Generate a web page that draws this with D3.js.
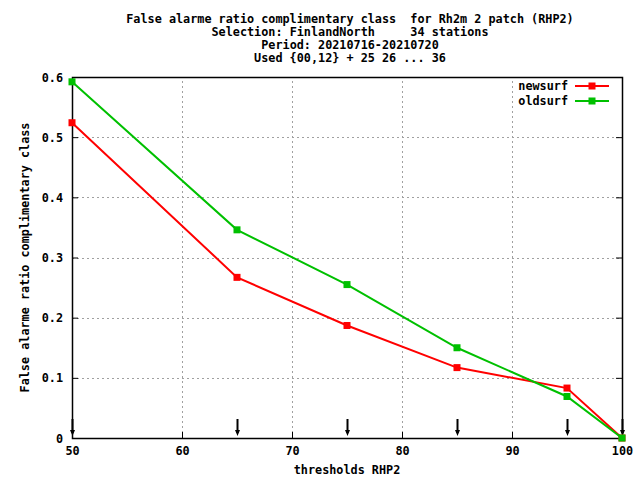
<!DOCTYPE html>
<html>
<head>
<meta charset="utf-8">
<script src="https://cdn.jsdelivr.net/npm/d3@7"></script>
<style>
  body { margin: 0; background: #fff; }
  text { font-family: "DejaVu Sans Mono", "Liberation Mono", monospace; font-weight: bold; font-size: 11.8px; fill: #000; }
</style>
</head>
<body>
<svg id="chart" width="640" height="480"></svg>
<script>
/* data */
const thresholds = [50, 65, 75, 85, 95, 100];
const newsurf = [0.524, 0.267, 0.187, 0.117, 0.083, 0.0];
const oldsurf = [0.592, 0.346, 0.255, 0.150, 0.069, 0.0];
const xTicks = [50, 60, 70, 80, 90, 100];
const yTicks = [0, 0.1, 0.2, 0.3, 0.4, 0.5, 0.6];
const titleLines = [
  "False alarme ratio complimentary class  for Rh2m 2 patch (RHP2)",
  "Selection: FinlandNorth     34 stations",
  "Period: 20210716-20210720",
  "Used {00,12} + 25 26 ... 36"
];
const seriesNames = ["newsurf", "oldsurf"];
const seriesColors = ["#ff0000", "#00c000"];

const svg = d3.select("#chart");
const margin = { left: 72, right: 18, top: 77, bottom: 42 };
const W = 640, H = 480;

const x = d3.scaleLinear().domain([50, 100]).range([margin.left, W - margin.right]);
const y = d3.scaleLinear().domain([0, 0.6]).range([H - margin.bottom, margin.top]);

svg.append("rect").attr("width", W).attr("height", H).attr("fill", "#fff");

/* grid */
const grid = svg.append("g").attr("stroke", "#a0a0a0").attr("stroke-dasharray", "2,3").attr("stroke-width", 1);
xTicks.slice(1, -1).forEach(t => {
  grid.append("line").attr("x1", x(t) + 0.5).attr("x2", x(t) + 0.5)
    .attr("y1", y(0)).attr("y2", y(0.6)).attr("shape-rendering", "crispEdges");
});
yTicks.slice(1, -1).forEach(t => {
  grid.append("line").attr("x1", x(50)).attr("x2", x(100))
    .attr("y1", Math.round(y(t)) + 0.5).attr("y2", Math.round(y(t)) + 0.5).attr("shape-rendering", "crispEdges");
});

/* axes (gnuplot style: inward ticks, mirrored) */
const axisBottom = d3.axisBottom(x).tickValues(xTicks).tickSizeInner(-6).tickSizeOuter(0).tickPadding(9).tickFormat(d3.format("d"));
const axisLeft = d3.axisLeft(y).tickValues(yTicks).tickSizeInner(-6).tickSizeOuter(0).tickPadding(9).tickFormat(d => d === 0 ? "0" : d3.format(".1f")(d));
const gx = svg.append("g").attr("transform", `translate(0,${y(0)})`).call(axisBottom);
const gy = svg.append("g").attr("transform", `translate(${x(50)},0)`).call(axisLeft);
[gx, gy].forEach(g => {
  g.select(".domain").remove();
  g.selectAll("text").style("font-family", null).style("font-size", null);
  g.selectAll("line").attr("stroke", "#000");
});
gy.selectAll(".tick text").attr("dy", "0.35em");
const gyR = svg.append("g").attr("transform", `translate(${x(100)},0)`)
  .call(d3.axisRight(y).tickValues(yTicks).tickSizeInner(-6).tickSizeOuter(0).tickFormat(""));
gyR.select(".domain").remove();
gyR.selectAll("line").attr("stroke", "#000");

svg.append("rect").attr("x", x(50) + 0.5).attr("y", y(0.6) + 0.5)
  .attr("width", x(100) - x(50)).attr("height", y(0) - y(0.6))
  .attr("fill", "none").attr("stroke", "#000").attr("stroke-width", 1.5);

/* titles */
titleLines.forEach((t, i) => {
  svg.append("text").attr("x", 350).attr("y", 23 + i * 13).attr("text-anchor", "middle")
    .attr("xml:space", "preserve").style("white-space", "pre").text(t);
});
svg.append("text").attr("x", 347).attr("y", 474).attr("text-anchor", "middle").text("thresholds RHP2");
svg.append("text").attr("transform", `translate(29,${(y(0) + y(0.6)) / 2}) rotate(-90)`)
  .attr("text-anchor", "middle").text("False alarme ratio complimentary class");

/* threshold arrows */
thresholds.forEach(t => {
  const ax = Math.round(x(t)) + 0.5;
  svg.append("line").attr("x1", ax).attr("x2", ax).attr("y1", 419).attr("y2", 433)
    .attr("stroke", "#000").attr("stroke-width", 2);
  svg.append("path").attr("d", `M${ax - 2.5},430 L${ax + 2.5},430 L${ax},436 Z`).attr("fill", "#000");
});

/* series */
const line = d3.line().x(d => x(d[0])).y(d => y(d[1]));
[newsurf, oldsurf].forEach((vals, i) => {
  const pts = thresholds.map((t, j) => [t, vals[j]]);
  svg.append("path").datum(pts).attr("d", line).attr("fill", "none")
    .attr("stroke", seriesColors[i]).attr("stroke-width", 2);
  svg.selectAll(null).data(pts).join("rect")
    .attr("x", d => x(d[0]) - 3.5).attr("y", d => y(d[1]) - 3.5)
    .attr("width", 7).attr("height", 7).attr("fill", seriesColors[i]);
});

/* legend */
seriesNames.forEach((name, i) => {
  const ly = 86 + i * 15;
  svg.append("text").attr("x", 568).attr("y", ly + 4).attr("text-anchor", "end").text(name);
  svg.append("line").attr("x1", 575).attr("x2", 609).attr("y1", ly).attr("y2", ly)
    .attr("stroke", seriesColors[i]).attr("stroke-width", 2);
  svg.append("rect").attr("x", 592 - 3.5).attr("y", ly - 3.5).attr("width", 7).attr("height", 7)
    .attr("fill", seriesColors[i]);
});
</script>
</body>
</html>
